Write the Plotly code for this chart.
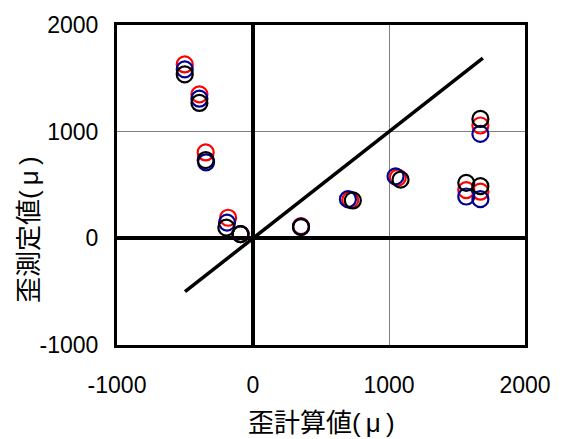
import plotly.graph_objects as go

# Calculated vs. measured strain (μ) for three load cases
red_calc = [-502, -394, -348, -183, -92, 353, 715, 1065, 1672, 1568, 1672]
red_meas = [1630, 1350, 805, 193, 40, 115, 360, 570, 1058, 452, 437]

blue_calc = [-502, -394, -345, -191, -92, 353, 698, 1048, 1672, 1568, 1672]
blue_meas = [1584, 1309, 713, 147, 40, 110, 367, 581, 979, 392, 367]

black_calc = [-502, -394, -348, -196, -92, 353, 734, 1085, 1672, 1568, 1672]
black_meas = [1538, 1269, 734, 101, 40, 105, 355, 550, 1119, 520, 489]

# Reference line: measured = calculated
ref_x = [-500, 1690]
ref_y = [-500, 1690]

tick_vals = [-1000, 0, 1000, 2000]
tick_text = ["-1000", "0", "1000", "2000"]

num_font = "Liberation Sans, Arial, sans-serif"
jp_font = "Liberation Sans, Noto Sans CJK JP, sans-serif"

fig = go.Figure()

fig.add_trace(go.Scatter(
    x=ref_x, y=ref_y, mode="lines",
    line=dict(color="black", width=3.5), showlegend=False,
))

for xs, ys, col in [(red_calc, red_meas, "#ff0000"),
                    (blue_calc, blue_meas, "#000090"),
                    (black_calc, black_meas, "#000000")]:
    fig.add_trace(go.Scatter(
        x=xs, y=ys, mode="markers",
        marker=dict(symbol="circle-open", size=16, color=col,
                    line=dict(color=col, width=2.2)),
        showlegend=False,
    ))

axis_common = dict(
    range=[-1000, 2000],
    tickvals=tick_vals, ticktext=tick_text,
    showgrid=True, gridcolor="#808080", gridwidth=1,
    zeroline=True, zerolinecolor="black", zerolinewidth=3.5,
    showline=True, mirror=True, linecolor="black", linewidth=3,
    ticks="", tickfont=dict(family=num_font, size=23, color="black"),
)

fig.update_xaxes(**axis_common, ticklabelstandoff=17)
fig.update_yaxes(**axis_common, ticklabelstandoff=11)

fig.add_annotation(
    text="歪計算値(\u2009μ\u2009)", x=0.5, y=-0.245, xref="paper", yref="paper",
    xanchor="center", yanchor="middle", showarrow=False,
    font=dict(family=jp_font, size=26, color="black"),
)
fig.add_annotation(
    text="歪測定値(\u2009μ\u2009)", x=-0.215, y=0.36, xref="paper", yref="paper",
    xanchor="center", yanchor="middle", showarrow=False, textangle=-90,
    font=dict(family=jp_font, size=26, color="black"),
)

fig.update_layout(
    width=563, height=439,
    margin=dict(l=117, r=35, t=18, b=94),
    plot_bgcolor="white", paper_bgcolor="white",
)

fig.write_html("out.html")
